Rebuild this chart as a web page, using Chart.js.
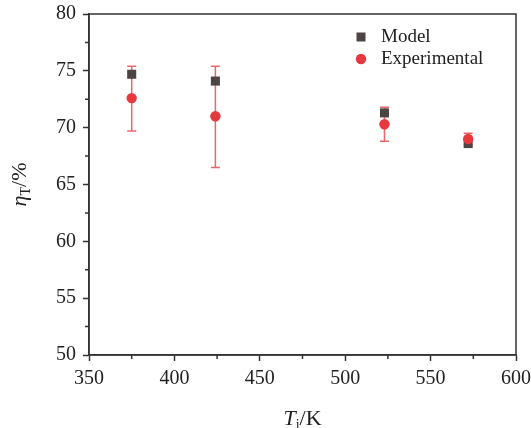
<!DOCTYPE html>
<html>
<head>
<meta charset="utf-8">
<script src="https://cdn.jsdelivr.net/npm/chart.js@4"></script>
<style>
  html, body { margin: 0; padding: 0; background: #fff; }
  #wrap { width: 531px; height: 428px; position: relative; }
</style>
</head>
<body>
<div id="wrap"><canvas id="chart"></canvas></div>
<script>
// inlet temperature (K)
const temps = [375, 424, 523, 572];
// efficiency values (%)
const modelEff = [74.7, 74.1, 71.3, 68.6];
const expEff = [72.6, 71.0, 70.3, 69.0];
const expLow = [69.7, 66.5, 68.8, 68.5];
const expHigh = [75.4, 75.4, 71.8, 69.5];

const xTicks = [350, 400, 450, 500, 550, 600];
const yTicks = [50, 55, 60, 65, 70, 75, 80];

const FONT = '"Liberation Serif", "Times New Roman", serif';
const AXIS = '#333';
const MODEL_COLOR = '#4b4544';
const EXP_COLOR = '#e5393d';
const ERR_COLOR = '#e9666a';

const modelPts = temps.map((t, i) => ({ x: t, y: modelEff[i] }));
const expPts = temps.map((t, i) => ({ x: t, y: expEff[i] }));

const errorBars = {
  id: 'errorBars',
  beforeDatasetsDraw(chart) {
    const { ctx, scales: { x, y } } = chart;
    ctx.save();
    ctx.strokeStyle = ERR_COLOR;
    ctx.lineWidth = 1.5;
    temps.forEach((t, i) => {
      const px = x.getPixelForValue(t);
      const lo = y.getPixelForValue(expLow[i]);
      const hi = y.getPixelForValue(expHigh[i]);
      ctx.beginPath();
      ctx.moveTo(px, lo); ctx.lineTo(px, hi);
      ctx.moveTo(px - 4.5, lo); ctx.lineTo(px + 4.5, lo);
      ctx.moveTo(px - 4.5, hi); ctx.lineTo(px + 4.5, hi);
      ctx.stroke();
    });
    ctx.restore();
  }
};

const frame = {
  id: 'frame',
  afterDraw(chart) {
    const { ctx, chartArea: a, scales: { x, y } } = chart;
    ctx.save();
    ctx.strokeStyle = AXIS;
    ctx.lineWidth = 1.5;
    ctx.strokeRect(a.left, a.top, a.right - a.left, a.bottom - a.top);
    // minor ticks halfway between majors
    ctx.beginPath();
    for (let i = 0; i < xTicks.length - 1; i++) {
      const px = x.getPixelForValue((xTicks[i] + xTicks[i + 1]) / 2);
      ctx.moveTo(px, a.bottom); ctx.lineTo(px, a.bottom + 4);
    }
    for (let i = 0; i < yTicks.length - 1; i++) {
      const py = y.getPixelForValue((yTicks[i] + yTicks[i + 1]) / 2);
      ctx.moveTo(a.left, py); ctx.lineTo(a.left - 4, py);
    }
    ctx.stroke();

    // axis titles with sub-scripts
    ctx.fillStyle = '#222';
    ctx.textBaseline = 'alphabetic';
    const big = 'italic 22px ' + FONT, sub = '14px ' + FONT, reg = '22px ' + FONT;

    // x title: Ti/K
    const xParts = [['T', big, 0], ['i', sub, 4], ['/K', reg, 0]];
    let w = 0;
    xParts.forEach(p => { ctx.font = p[1]; w += ctx.measureText(p[0]).width; });
    let cx = (a.left + a.right) / 2 - w / 2;
    xParts.forEach(p => {
      ctx.font = p[1];
      ctx.fillText(p[0], cx, 425 + p[2]);
      cx += ctx.measureText(p[0]).width;
    });

    // y title: ηT/%
    const yParts = [['\u03B7', big, 0], ['T', sub, 4], ['/%', reg, 0]];
    w = 0;
    yParts.forEach(p => { ctx.font = p[1]; w += ctx.measureText(p[0]).width; });
    ctx.translate(26, (a.top + a.bottom) / 2);
    ctx.rotate(-Math.PI / 2);
    cx = -w / 2;
    yParts.forEach(p => {
      ctx.font = p[1];
      ctx.fillText(p[0], cx, p[2]);
      cx += ctx.measureText(p[0]).width;
    });
    ctx.restore();

    // legend
    ctx.save();
    ctx.fillStyle = MODEL_COLOR;
    ctx.fillRect(356.5, 32.5, 9, 9);
    ctx.fillStyle = EXP_COLOR;
    ctx.beginPath();
    ctx.arc(361, 59, 5.2, 0, Math.PI * 2);
    ctx.fill();
    ctx.fillStyle = '#222';
    ctx.font = '19px ' + FONT;
    ctx.textBaseline = 'middle';
    ctx.fillText('Model', 381, 37);
    ctx.fillText('Experimental', 381, 59);
    ctx.restore();
  }
};

new Chart(document.getElementById('chart'), {
  type: 'scatter',
  data: {
    datasets: [
      {
        label: 'Model',
        data: modelPts,
        pointStyle: 'rect',
        pointRadius: 6.4,
        backgroundColor: MODEL_COLOR,
        borderColor: MODEL_COLOR,
        borderWidth: 0,
        order: 2
      },
      {
        label: 'Experimental',
        data: expPts,
        pointStyle: 'circle',
        pointRadius: 5.2,
        backgroundColor: EXP_COLOR,
        borderColor: EXP_COLOR,
        borderWidth: 0,
        order: 1
      }
    ]
  },
  options: {
    responsive: true,
    maintainAspectRatio: false,
    animation: false,
    layout: { padding: { left: 0, top: 14, right: 15, bottom: 0 } },
    plugins: {
      legend: { display: false },
      tooltip: { enabled: false }
    },
    scales: {
      x: {
        type: 'linear',
        min: 350,
        max: 600,
        afterBuildTicks: s => { s.ticks = xTicks.map(v => ({ value: v })); },
        afterFit: s => { s.height = 73; s.paddingLeft = 0; s.paddingRight = 0; },
        ticks: { color: '#222', font: { family: FONT, size: 20 }, padding: 6, maxRotation: 0 },
        grid: { drawOnChartArea: false, tickLength: 6, color: AXIS, tickWidth: 1.5 },
        border: { color: AXIS, width: 1.5 }
      },
      y: {
        min: 50,
        max: 80,
        afterBuildTicks: s => { s.ticks = yTicks.map(v => ({ value: v })); },
        afterFit: s => { s.width = 89; s.paddingTop = 0; s.paddingBottom = 0; },
        ticks: { color: '#222', font: { family: FONT, size: 20 }, padding: 7 },
        grid: { drawOnChartArea: false, tickLength: 6, color: AXIS, tickWidth: 1.5 },
        border: { color: AXIS, width: 1.5 }
      }
    }
  },
  plugins: [errorBars, frame]
});
</script>
</body>
</html>
